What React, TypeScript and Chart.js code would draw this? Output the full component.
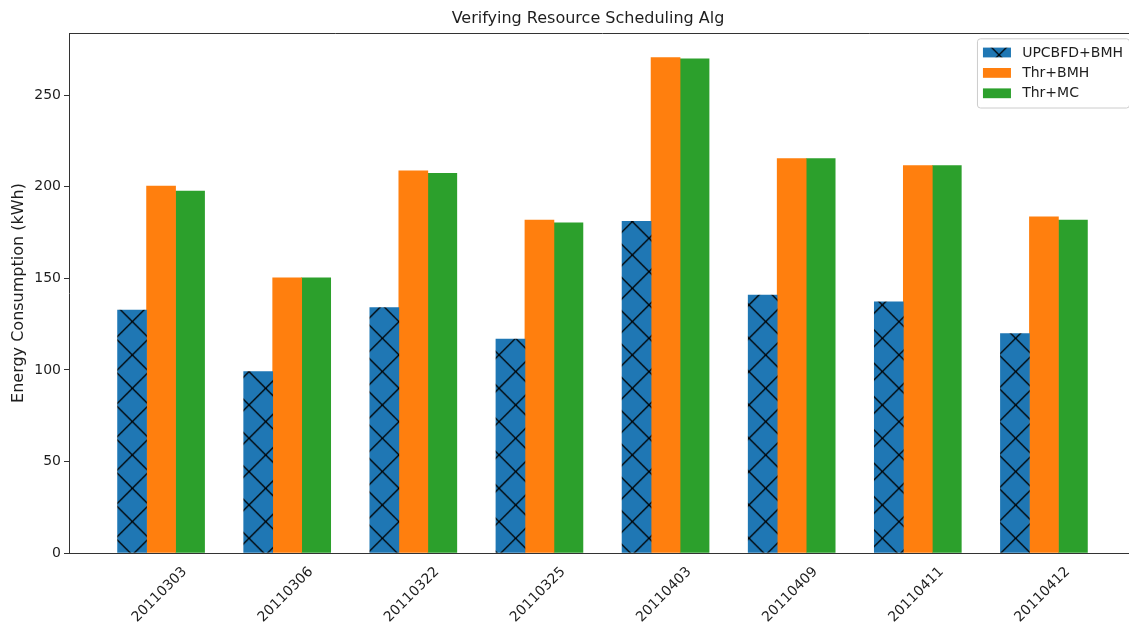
import React, { useEffect, useRef } from 'react';
import { Chart, registerables } from 'chart.js';

Chart.register(...registerables);

// ---------------- data ----------------
const categories = ['20110303', '20110306', '20110322', '20110325', '20110403', '20110409', '20110411', '20110412'];
const seriesLabels = ['UPCBFD+BMH', 'Thr+BMH', 'Thr+MC'];
const upcbfdBmh = [132.7, 99.1, 134.1, 116.8, 181.2, 140.8, 137.2, 119.9];
const thrBmh = [200.4, 150.3, 208.7, 181.8, 270.6, 215.4, 211.6, 183.6];
const thrMc = [197.6, 150.3, 207.3, 180.3, 269.9, 215.4, 211.6, 181.8];
const yTickStep = 50;
const yMax = 284;
const xMin = -0.73;
const xMax = 7.73;
const titleText = 'Verifying Resource Scheduling Alg';
const yTitleText = 'Energy Consumption (kWh)';

// ---------------- style ----------------
const FONT = "'DejaVu Sans', 'Liberation Sans', sans-serif";
const TEXT = '#1e1e1e';
const SPINE = '#333333';
const BLUE = '#1f77b4';
const ORANGE = '#ff7f0e';
const GREEN = '#2ca02c';
const CANVAS_W = 1150;
const CANVAS_H = 623;

function makeHatch(ctx: CanvasRenderingContext2D): CanvasPattern | string {
  const c = document.createElement('canvas');
  c.width = 100;
  c.height = 100;
  const g = c.getContext('2d');
  if (!g) return BLUE;
  g.fillStyle = BLUE;
  g.fillRect(0, 0, 100, 100);
  g.strokeStyle = '#000000';
  g.lineWidth = 1.3;
  const s = 100 / 3;
  g.beginPath();
  for (let k = -6; k <= 6; k++) {
    g.moveTo(k * s, 0);
    g.lineTo(k * s + 100, 100);
    g.moveTo(k * s, 100);
    g.lineTo(k * s + 100, 0);
  }
  g.stroke();
  const p = ctx.createPattern(c, 'repeat');
  if (!p) return BLUE;
  try {
    p.setTransform(new DOMMatrix([1, 0, 0, 1, -1, -11.7]));
  } catch (e) {
    /* ignore */
  }
  return p;
}

const framePlugin = {
  id: 'frameAndText',
  afterDraw(chart: any) {
    const { ctx, chartArea } = chart;
    const xs = chart.scales.x;
    ctx.save();
    // top & right spines
    ctx.strokeStyle = SPINE;
    ctx.lineWidth = 1;
    ctx.beginPath();
    ctx.moveTo(chartArea.left, Math.round(chartArea.top) + 0.5);
    ctx.lineTo(chartArea.right, Math.round(chartArea.top) + 0.5);
    ctx.lineTo(chartArea.right, chartArea.bottom);
    ctx.stroke();

    // title
    ctx.fillStyle = TEXT;
    ctx.font = `16px ${FONT}`;
    ctx.textAlign = 'center';
    ctx.textBaseline = 'middle';
    ctx.fillText(titleText, 588, 19);

    // rotated x tick labels, centred on tick
    ctx.font = `14px ${FONT}`;
    categories.forEach((c, i) => {
      const x = xs.getPixelForValue(i);
      const m = ctx.measureText(c);
      const bh = (m.width + 10) * Math.SQRT1_2;
      const y = chartArea.bottom + 13 + bh / 2;
      ctx.save();
      ctx.translate(x - 1.5, y);
      ctx.rotate(-Math.PI / 4);
      ctx.fillText(c, 0, 0);
      ctx.restore();
    });

    // legend (inside, upper right)
    const fs = 14;
    ctx.font = `${fs}px ${FONT}`;
    const labels = chart.data.datasets.map((d: any) => d.label as string);
    const tw = Math.max(...labels.map((l: string) => ctx.measureText(l).width));
    const pad = 6;
    const hl = 28;
    const hh = 9.8;
    const gap = 11.2;
    const pitch = 20.4;
    const right = chartArea.right - 7;
    const w = pad + hl + gap + tw + pad;
    const left = right - w;
    const top = chartArea.top + 5.3;
    const h = pitch * (labels.length - 1) + 28.4;
    ctx.beginPath();
    if ((ctx as any).roundRect) (ctx as any).roundRect(left + 0.5, top + 0.5, w, h, 3);
    else ctx.rect(left + 0.5, top + 0.5, w, h);
    ctx.fillStyle = 'rgba(255,255,255,0.8)';
    ctx.fill();
    ctx.strokeStyle = '#cccccc';
    ctx.lineWidth = 1;
    ctx.stroke();
    ctx.textAlign = 'left';
    ctx.textBaseline = 'middle';
    chart.data.datasets.forEach((d: any, i: number) => {
      const cy = top + 14.2 + i * pitch;
      ctx.fillStyle = d.backgroundColor;
      ctx.fillRect(left + pad, cy - hh / 2, hl, hh);
      ctx.fillStyle = TEXT;
      ctx.fillText(d.label, left + pad + hl + gap, cy + 0.5);
    });
    ctx.restore();
  },
};

export default function App() {
  const ref = useRef<HTMLCanvasElement | null>(null);

  useEffect(() => {
    document.body.style.margin = '0';
    const canvas = ref.current;
    if (!canvas) return;
    const ctx = canvas.getContext('2d');
    if (!ctx) return;
    const hatch = makeHatch(ctx);
    const toPoints = (arr: number[]) => arr.map((v, i) => ({ x: i, y: v }));

    const chart = new Chart(ctx, {
      type: 'bar',
      data: {
        datasets: [
          { label: seriesLabels[0], data: toPoints(upcbfdBmh), backgroundColor: hatch as any, borderWidth: 0 },
          { label: seriesLabels[1], data: toPoints(thrBmh), backgroundColor: ORANGE, borderWidth: 0 },
          { label: seriesLabels[2], data: toPoints(thrMc), backgroundColor: GREEN, borderWidth: 0 },
        ],
      },
      options: {
        responsive: false,
        animation: false,
        devicePixelRatio: 1,
        events: [],
        layout: { padding: { left: 0, right: CANVAS_W - 1136, top: 33, bottom: 0 } },
        datasets: { bar: { barThickness: 29, grouped: true } } as any,
        plugins: {
          legend: { display: false },
          title: { display: false },
          tooltip: { enabled: false },
        },
        scales: {
          x: {
            type: 'linear',
            min: xMin,
            max: xMax,
            offset: false,
            bounds: 'data',
            ticks: { display: false, stepSize: 1, includeBounds: false } as any,
            grid: { display: false, offset: false },
            border: { display: true, color: SPINE, width: 1 },
            afterFit: (scale: any) => {
              scale.height = CANVAS_H - 553;
            },
          },
          y: {
            type: 'linear',
            min: 0,
            max: yMax,
            ticks: {
              stepSize: yTickStep,
              includeBounds: false,
              padding: 3,
              color: TEXT,
              font: { family: FONT, size: 14 },
              callback: (v: any) => String(v),
            } as any,
            grid: {
              display: true,
              drawOnChartArea: false,
              drawTicks: true,
              tickLength: 5,
              color: SPINE,
              lineWidth: 1,
            },
            border: { display: true, color: SPINE, width: 1 },
            title: {
              display: true,
              text: yTitleText,
              color: TEXT,
              font: { family: FONT, size: 16 },
              padding: { top: 9.6, bottom: 0 },
            },
            afterFit: (scale: any) => {
              scale.width = 69;
            },
          },
        },
      },
      plugins: [framePlugin],
    });
    return () => chart.destroy();
  }, []);

  return (
    <div style={{ width: 1129, height: CANVAS_H, overflow: 'hidden', background: '#ffffff' }}>
      <canvas ref={ref} width={CANVAS_W} height={CANVAS_H} style={{ display: 'block', width: CANVAS_W, height: CANVAS_H }} />
    </div>
  );
}
